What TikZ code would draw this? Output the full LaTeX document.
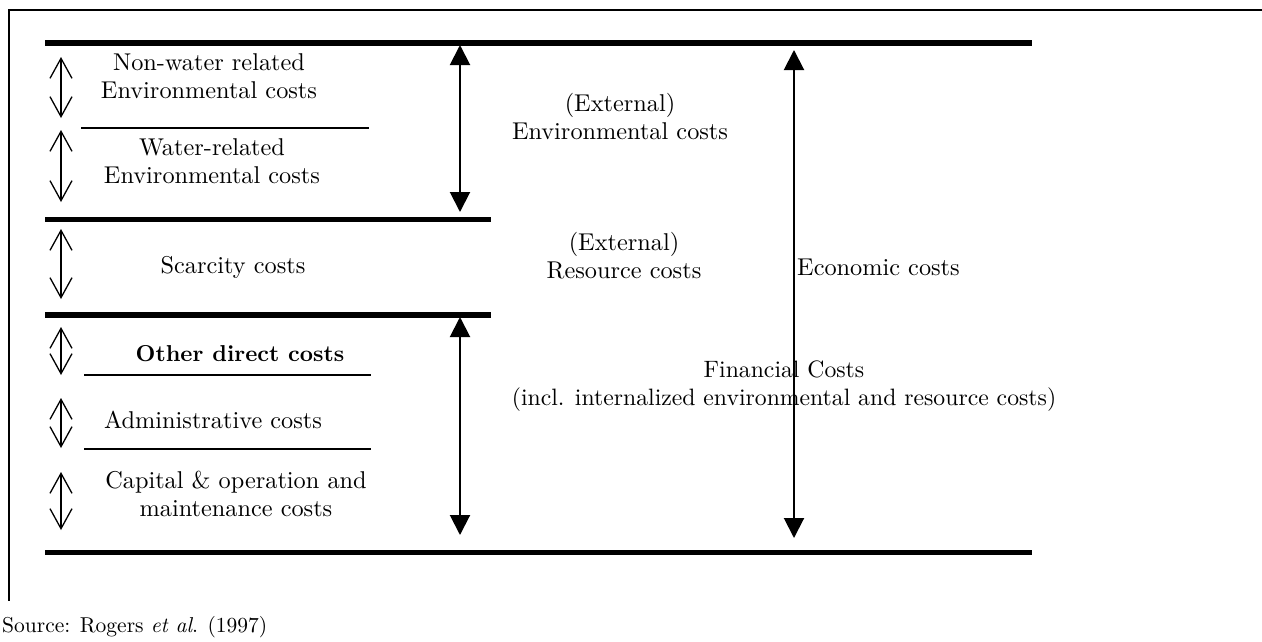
\documentclass[tikz,border=0pt]{standalone}
\usepackage{fontspec}
\setmainfont{lmroman10-regular.otf}[BoldFont=lmroman10-bold.otf,ItalicFont=lmroman10-italic.otf,BoldItalicFont=lmroman10-bolditalic.otf]
\usetikzlibrary{arrows.meta}
\begin{document}
\begin{tikzpicture}[x=1pt,y=-1pt,
  lbl/.style={inner sep=0pt,align=center,font=\fontsize{24.3}{28}\selectfont},
  thickbar/.style={line width=5.5pt},
  thinsep/.style={line width=1.3pt},
  frameline/.style={line width=2.2pt},
  openarr/.style={line width=1.3pt,{Straight Barb[length=20pt,width=22pt]}-{Straight Barb[length=20pt,width=22pt]}},
  filledarr/.style={line width=2pt,{Triangle[length=20pt,width=20pt]}-{Triangle[length=20pt,width=20pt]}}]
\useasboundingbox (0,0) rectangle (1262,641);
% frame
\coordinate (fTL) at (9,10);
\coordinate (fTR) at (1262,10);
\coordinate (fBL) at (9,601);
\draw[frameline] (fTR) -- (fTL) -- (fBL);
% thick bars
\coordinate (b1l) at (45,43);   \coordinate (b1r) at (1032,43);
\coordinate (b2l) at (45,219.5);\coordinate (b2r) at (491,219.5);
\coordinate (b3l) at (45,315);  \coordinate (b3r) at (491,315);
\coordinate (b4l) at (45,552.5);\coordinate (b4r) at (1032,552.5);
\draw[thickbar] (b1l) -- (b1r);
\draw[thickbar] (b2l) -- (b2r);
\draw[thickbar] (b3l) -- (b3r);
\draw[thickbar] (b4l) -- (b4r);
% thin separators
\coordinate (s1l) at (81,128);  \coordinate (s1r) at (369,128);
\coordinate (s2l) at (84,375);  \coordinate (s2r) at (371,375);
\coordinate (s3l) at (84,449);  \coordinate (s3r) at (371,449);
\draw[thinsep] (s1l) -- (s1r);
\draw[thinsep] (s2l) -- (s2r);
\draw[thinsep] (s3l) -- (s3r);
% small open double arrows
\coordinate (a1t) at (61,57);  \coordinate (a1b) at (61,118);
\coordinate (a2t) at (61,130); \coordinate (a2b) at (61,202);
\coordinate (a3t) at (61,229); \coordinate (a3b) at (61,299);
\coordinate (a4t) at (61,327); \coordinate (a4b) at (61,375);
\coordinate (a5t) at (61,398); \coordinate (a5b) at (61,448);
\coordinate (a6t) at (61,472); \coordinate (a6b) at (61,530);
\draw[openarr] (a1t) -- (a1b);
\draw[openarr] (a2t) -- (a2b);
\draw[openarr] (a3t) -- (a3b);
\draw[openarr] (a4t) -- (a4b);
\draw[openarr] (a5t) -- (a5b);
\draw[openarr] (a6t) -- (a6b);
% filled double arrows
\coordinate (e1t) at (460,45);  \coordinate (e1b) at (460,212);
\coordinate (e2t) at (460,317); \coordinate (e2b) at (460,535);
\coordinate (e3t) at (794,50);  \coordinate (e3b) at (794,538);
\draw[filledarr] (e1t) -- (e1b);
\draw[filledarr] (e2t) -- (e2b);
\draw[filledarr] (e3t) -- (e3b);
% left labels
\node[lbl] (nonwater) at (209,76) {Non-water related\\Environmental costs};
\node[lbl] (water) at (212,161) {Water-related\\Environmental costs};
\node[lbl] (scarcity) at (233,267) {Scarcity costs};
\node[lbl,font=\fontsize{23}{28}\selectfont\bfseries] (other) at (240,354) {Other direct costs};
\node[lbl] (admin) at (213,420) {Administrative costs};
\node[lbl] (capital) at (236,494) {Capital \& operation and\\maintenance costs};
% middle labels
\node[lbl] (extenv) at (620,117) {(External)\\Environmental costs};
\node[lbl] (extres) at (624,256) {(External)\\Resource costs};
\node[lbl,anchor=west] (econ) at (797,267) {Economic costs};
\node[lbl,font=\fontsize{23.7}{28}\selectfont] (fin) at (784,386) {Financial Costs\\(incl. internalized environmental and resource costs)};
% source
\node[inner sep=0pt,anchor=west,font=\fontsize{21.5}{26}\selectfont] (src) at (2,627) {Source: Rogers \textit{et al}. (1997)};
\end{tikzpicture}
\end{document}
